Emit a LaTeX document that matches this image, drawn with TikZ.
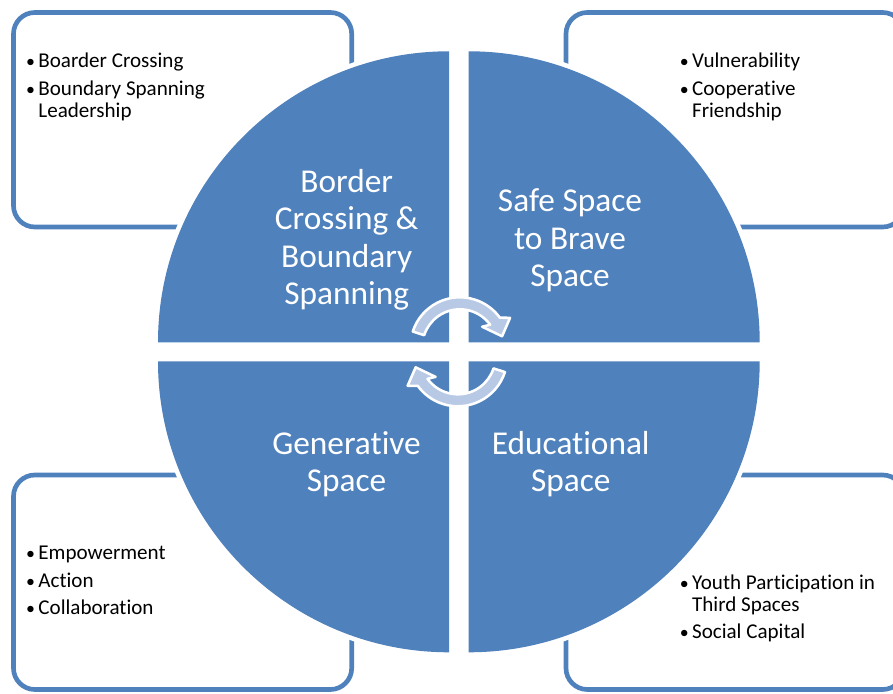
\documentclass[tikz,border=0pt]{standalone}
\usepackage{fontspec}
\setmainfont{Carlito}[Ligatures={NoCommon,NoContextual}, Contextuals=NoAlternate]
\usepackage{xcolor}
\definecolor{Cyclecolor}{RGB}{79,129,189}
\definecolor{Arrowcolor}{RGB}{184,201,229}
\usepackage{tikz}
\usetikzlibrary{calc, positioning}
\newcommand\bul{\makebox[8pt][l]{\hspace{-1.2pt}\scalebox{0.85}{\textbullet}}}
\newcommand\ind{\hspace*{8pt}}

\begin{document}
\begin{tikzpicture}[
  x=0.75pt, y=0.75pt,
  panel/.style={
    draw=Cyclecolor, line width=3.5pt, rounded corners=16pt
  },
  quad/.style={
    fill=Cyclecolor, preaction={draw=white, line width=7pt}
  },
  qlabel/.style={
    text=white, align=center, inner sep=0pt, anchor=base,
    font=\fontsize{25}{28}\selectfont
  },
  blist/.style={
    align=left, inner sep=0pt, anchor=base west,
    font=\fontsize{15.8}{16.7}\selectfont
  },
  cyc/.style={
    fill=Arrowcolor, draw=white, line width=1.9pt, line join=round
  }
]
\useasboundingbox (0,0) rectangle (893,693);

%% ── Recuadros de las esquinas ──────────────────────────────────────────────
\draw[panel] (13.5,466)  rectangle (351.7,680.5);
\draw[panel] (566,466)   rectangle (904,680.5);
\draw[panel] (13.5,3.5)  rectangle (351.7,218);
\draw[panel] (566,3.5)   rectangle (904,218);

%% ── Círculo en cuatro cuadrantes ───────────────────────────────────────────
\coordinate (o) at (458.85,341.2);
\begin{scope}[shift={(o)}]
  \foreach \sx/\sy/\a in {-1/1/90, 1/1/0, -1/-1/180, 1/-1/270}
    \path[quad] (\sx*9.85,\sy*9.5) -- +(\a:291)
      arc[start angle=\a, delta angle=90, radius=291] -- cycle;
\end{scope}

%% ── Textos de los cuadrantes (base = última línea) ─────────────────────────
\node[qlabel] (border) at (346.7,388.5) {Border\\Crossing \&\\Boundary\\Spanning};
\node[qlabel] (safe)   at (570,406.5)   {Safe Space\\to Brave\\Space};
\node[qlabel] (gen)    at (346.5,201.3) {Generative\\Space};
\node[qlabel] (edu)    at (570.8,201.3) {Educational\\Space};

%% ── Listas ─────────────────────────────────────────────────────────────────
\node[blist] (lborder) at (27.5,575.7)
  {\bul Boarder Crossing\\[3.75pt]\bul Boundary Spanning\\\ind Leadership};
\node[blist] (lsafe)   at (681.2,575.7)
  {\bul Vulnerability\\[3.75pt]\bul Cooperative\\\ind Friendship};
\node[blist] (lgen)    at (27.5,78.7)
  {\bul Empowerment\\[3.75pt]\bul Action\\[3.75pt]\bul Collaboration};
\node[blist] (ledu)    at (681.2,54)
  {\bul Youth Participation in\\\ind Third Spaces\\[3.75pt]\bul Social Capital};

%% ── Flechas circulares del centro ──────────────────────────────────────────
\foreach \r in {0,180}{
  \begin{scope}[shift={(o)}, rotate=\r, shift={(1,5)}]
    \path[cyc] (162:49.5) arc[start angle=162, end angle=36, radius=49.5]
      -- (30:58) -- (14:43.5) -- (42:30) -- (36:37.5)
      arc[start angle=36, end angle=162, radius=37.5] -- cycle;
  \end{scope}
}

\end{tikzpicture}
\end{document}
